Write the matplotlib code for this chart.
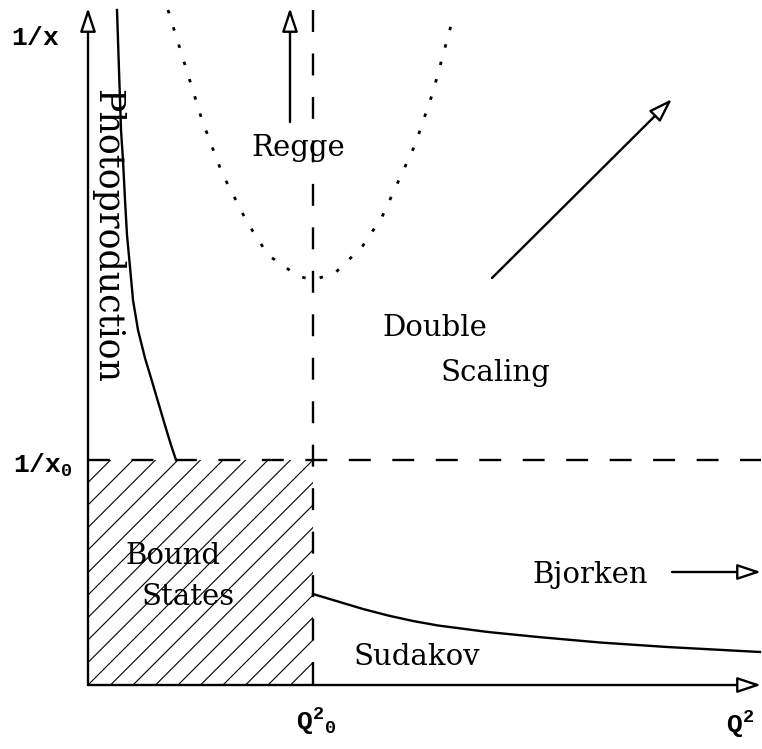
import numpy as np
import matplotlib.pyplot as plt
from matplotlib.patches import FancyArrowPatch, ArrowStyle, Rectangle

plt.rcParams['lines.scale_dashes'] = False
plt.rcParams['mathtext.fontset'] = 'custom'
plt.rcParams['mathtext.rm'] = 'Liberation Mono:bold'
plt.rcParams['mathtext.it'] = 'Liberation Mono:bold'

# diagram coordinates: origin at the corner of the axes, Q^2 to the right, 1/x up
Q0 = 225          # position of Q^2_0
X0 = 225          # position of 1/x_0
Q_END = 673       # tip of Q^2 axis
Y_END = 677       # tip of 1/x axis

# Photoproduction boundary
photo_q = [29, 30, 31, 32, 33, 35, 37, 39, 42, 45, 50, 57, 64.5, 71, 77.5, 83, 88]
photo_y = [675, 645, 615, 585, 555, 525, 485, 450, 418, 385, 355, 327, 302, 280, 258, 240, 225]

# dotted Regge / double-scaling boundary
regge_q = [80, 97, 114, 134, 159, 180, 210, 225, 247, 274, 294, 310, 327, 345, 365]
regge_y = [675, 620, 565, 512, 463, 430, 409, 405, 412, 438, 468, 503, 540, 593, 667]

# Sudakov boundary
suda_q = [225, 250, 275, 300, 325, 350, 400, 450, 512, 579, 672]
suda_y = [91, 83.5, 76, 69.5, 64, 59.5, 53, 48, 42.5, 38, 33]

fig = plt.figure(figsize=(7.62, 7.49), dpi=100)
ax = fig.add_axes([0, 0, 1, 1])
ax.set_xlim(-88, 674)
ax.set_ylim(-64, 685)
ax.axis('off')

LW = 1.7

def arrow(p0, p1):
    st = ArrowStyle('-|>', head_length=0.72, head_width=0.24)
    a = FancyArrowPatch(p0, p1, arrowstyle=st, mutation_scale=20,
                        facecolor='white', edgecolor='black', lw=LW,
                        shrinkA=0, shrinkB=0, zorder=5)
    ax.add_patch(a)

# axes
arrow((0, 0), (Q_END, 0))
arrow((0, 0), (0, Y_END))

# dashed lines
dash = (0, (15.8, 15.5))
ax.plot([0, Q_END], [X0, X0], color='black', lw=LW, ls=dash)
ax.plot([Q0, Q0], [675, 0], color='black', lw=LW, ls=dash)

# hatched bound-states region
clip = Rectangle((0, 0), Q0, X0, transform=ax.transData, fc='none', ec='none')
ax.add_patch(clip)
for c in np.arange(-Q0, X0 + 1, 22.5):
    ln, = ax.plot([-50, 300], [-50 + c, 300 + c], color='black', lw=0.8)
    ln.set_clip_path(clip)

# curves
ax.plot(photo_q, photo_y, color='black', lw=LW, solid_joinstyle='round')
ax.plot(regge_q, regge_y, color='black', lw=2.0, ls=(0, (2.5, 10.5)))
ax.plot(suda_q, suda_y, color='black', lw=LW, solid_joinstyle='round')

# arrows
arrow((202, 563), (202, Y_END))
arrow((404, 407), (584, 586))
arrow((584, 113), (Q_END, 113))

# region labels
serif = dict(family='DejaVu Serif', fontsize=21, ha='center', va='center')
ax.text(19, 449, 'Photoproduction', rotation=270,
        **{**serif, 'fontsize': 25})
ax.text(210, 537, 'Regge', **serif)
ax.text(347, 357, 'Double', **serif)
ax.text(407, 312, 'Scaling', **serif)
ax.text(85, 129, 'Bound', **serif)
ax.text(100, 88, 'States', **serif)
ax.text(502, 110, 'Bjorken', **serif)
ax.text(329, 28, 'Sudakov', **serif)

# axis labels
mono = dict(fontsize=19, ha='center', va='center')
ax.text(-53, 647, r'$\mathrm{1/x}$', **mono)
ax.text(-45, 220, r'$\mathrm{1/x_0}$', **mono)
ax.text(228, -37, r'$\mathrm{Q^2{}_0}$', **mono)
ax.text(652, -40, r'$\mathrm{Q^2}$', **mono)

fig.savefig('out.png', dpi=100)
